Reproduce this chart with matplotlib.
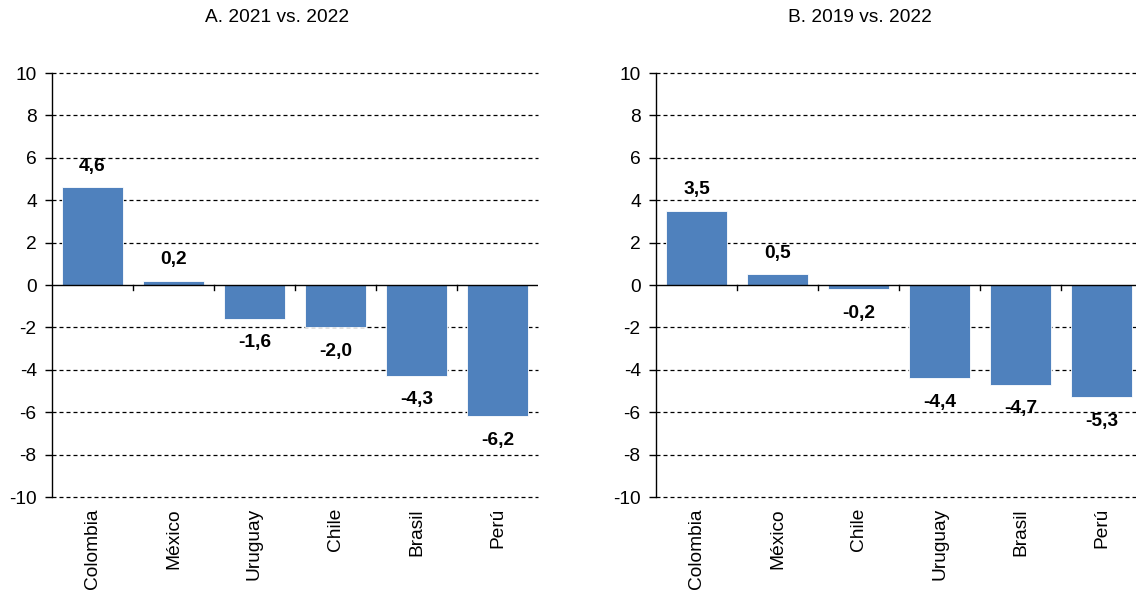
import matplotlib
matplotlib.use("Agg")
import matplotlib.pyplot as plt

plt.rcParams['font.family'] = ['Liberation Sans', 'DejaVu Sans']

title_a = "A. 2021 vs. 2022"
cats_a = ["Colombia", "México", "Uruguay", "Chile", "Brasil", "Perú"]
vals_a = [4.6, 0.2, -1.6, -2.0, -4.3, -6.2]

title_b = "B. 2019 vs. 2022"
cats_b = ["Colombia", "México", "Chile", "Uruguay", "Brasil", "Perú"]
vals_b = [3.5, 0.5, -0.2, -4.4, -4.7, -5.3]

yticks = [10, 8, 6, 4, 2, 0, -2, -4, -6, -8, -10]

BAR = "#4F81BD"
W, H = 1136, 594
FS = 13.8
fig = plt.figure(figsize=(W / 100, H / 100), dpi=100)

def panel(rect, cats, vals, title, title_x):
    ax = fig.add_axes(rect)
    x = list(range(len(cats)))
    ax.bar(x, vals, width=0.76, color=BAR, edgecolor="white", linewidth=0.6, zorder=3)
    ax.set_xlim(-0.5, len(cats) - 0.5)
    ax.set_ylim(-10, 10)
    ax.set_yticks(yticks)
    ax.set_yticklabels([str(t) for t in yticks], fontsize=FS)
    for t in yticks:
        if t != 0:
            ax.axhline(t, color="black", lw=0.9, ls=(0, (3.2, 2.4)), zorder=1, clip_on=False)
    ax.axhline(0, color="black", lw=1.0, zorder=4)
    for s in ["top", "right", "bottom"]:
        ax.spines[s].set_visible(False)
    ax.spines["left"].set_linewidth(1.0)
    ax.tick_params(axis="y", length=5, width=1.0, pad=6)
    ax.set_xticks(x)
    ax.set_xticklabels([])
    ax.tick_params(axis="x", length=0)
    for b in range(1, len(cats)):
        ax.plot([b - 0.5, b - 0.5], [0, -0.22], color="black", lw=1.0, zorder=4, clip_on=False)
    for xi, c in zip(x, cats):
        ax.annotate(c, xy=(xi, -10), xycoords="data", xytext=(0, -8),
                    textcoords="offset points", rotation=90, ha="center", va="top",
                    fontsize=FS, annotation_clip=False)
    for xi, v in zip(x, vals):
        lab = f"{v:.1f}".replace(".", ",")
        if v >= 0:
            ax.annotate(lab, xy=(xi, v), xytext=(0, 9), textcoords="offset points",
                        ha="center", va="bottom", fontsize=FS, fontweight="bold", zorder=5)
        else:
            ax.annotate(lab, xy=(xi, v), xytext=(0, -11), textcoords="offset points",
                        ha="center", va="top", fontsize=FS, fontweight="bold", zorder=5)
    fig.text(title_x / W, 1 - 17 / H, title, ha="center", va="center", fontsize=FS)
    return ax

ax_h = (497 - 73) / H
ax_b = 1 - 497 / H
panel([52 / W, ax_b, 486 / W, ax_h], cats_a, vals_a, title_a, 277)
panel([656 / W, ax_b, 486 / W, ax_h], cats_b, vals_b, title_b, 860)

fig.savefig("out.png", dpi=100)
